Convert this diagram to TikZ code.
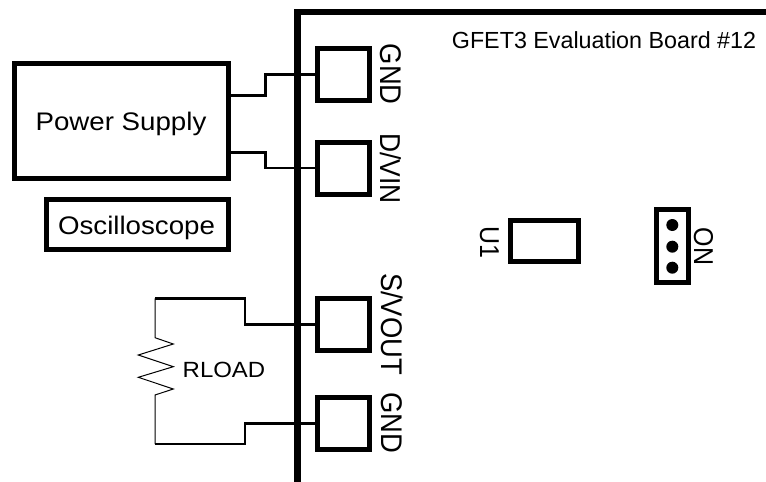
\documentclass[tikz,border=0pt]{standalone}
\usepackage{fontspec}
\setmainfont{Liberation Sans}
\begin{document}
\begin{tikzpicture}
        [
            x=1pt,
            y=-1pt,
            box/.style={rectangle, draw, line width=5pt, inner sep=0pt},
            pad/.style={box, minimum width=52pt, minimum height=52pt},
            pin/.style={circle, fill, inner sep=0pt, minimum size=12pt},
            wire/.style={line width=2.6pt, line join=miter},
            label/.style={inner sep=0pt, anchor=base, transform shape, xscale=1.09, font=\fontsize{25.4}{25.4}\selectfont},
            side/.style={label, rotate=-90, font=\fontsize{27.4}{27.4}\selectfont}
        ]
        \path[use as bounding box, fill=white] (0, 0) rectangle (766, 482);

        % board outline
        \coordinate (corner) at (297.6, 12);
        \coordinate (right) at (766, 12);
        \coordinate (bottom) at (297.6, 482);
        \draw[line width=6.4pt, line join=miter] (right) -- (corner) -- (bottom);

        \node[box, minimum width=214pt, minimum height=115pt] (supply) at (121.8, 121) {};
        \node[box, minimum width=182pt, minimum height=50pt] (scope) at (137.4, 224) {};
        \node[pad] (gndtop) at (343.5, 74.3) {};
        \node[pad] (vin) at (343.5, 168) {};
        \node[pad] (vout) at (343.5, 324.3) {};
        \node[pad] (gndlow) at (343.5, 423.3) {};
        \node[box, minimum width=68pt, minimum height=41.6pt] (u1) at (544.7, 241) {};
        \node[box, minimum width=31.4pt, minimum height=73pt] (jumper) at (672.5, 246.3) {};
        \node[pin] (pina) at (672.3, 225) {};
        \node[pin] (pinb) at (672.3, 246.7) {};
        \node[pin] (pinc) at (672.3, 267.7) {};

        \node[label, xscale=.917, font=\fontsize{23.3}{23.3}\selectfont] (title) at (604, 48.3) {GFET3 Evaluation Board \#12};
        \node[label] (supplytext) at (121, 130) {Power Supply};
        \node[label] (scopetext) at (136.5, 234) {Oscilloscope};
        \node[label, font=\fontsize{22}{22}\selectfont] (rload) at (224, 377.3) {RLOAD};
        \node[side] (gndtoptext) at (380, 74.2) {GND};
        \node[side, font=\fontsize{26.4}{26.4}\selectfont] (vintext) at (380, 168.5) {D/VIN};
        \node[side] (vouttext) at (381, 324) {S/VOUT};
        \node[side] (gndlowtext) at (381, 423) {GND};
        \node[side, font=\fontsize{25}{25}\selectfont] (u1text) at (480, 242.5) {U1};
        \node[side, font=\fontsize{25}{25}\selectfont] (ontext) at (694, 246.7) {ON};

        \coordinate (loadtop) at (155, 298.3);
        \coordinate (loadlow) at (155, 444);

        \draw[wire] ([yshift=25.3pt]supply.east) -| (265.7, 74.3) -- (gndtop.west);
        \draw[wire] ([yshift=-31.7pt]supply.east) -| (265.7, 168) -- (vin.west);
        \draw[wire] (loadtop) -| (245, 324.3) -- (vout.west);
        \draw[wire] (loadlow) -| (245, 423.3) -- (gndlow.west);

        % resistor
        \draw[line width=1pt] (loadtop) -- (155, 337.7) -- (173.3, 344) -- (138.3, 355) -- (173.3, 366.7)
            -- (138.3, 377.3) -- (173.3, 389) -- (155, 395) -- (loadlow);
    \end{tikzpicture}
\end{document}
